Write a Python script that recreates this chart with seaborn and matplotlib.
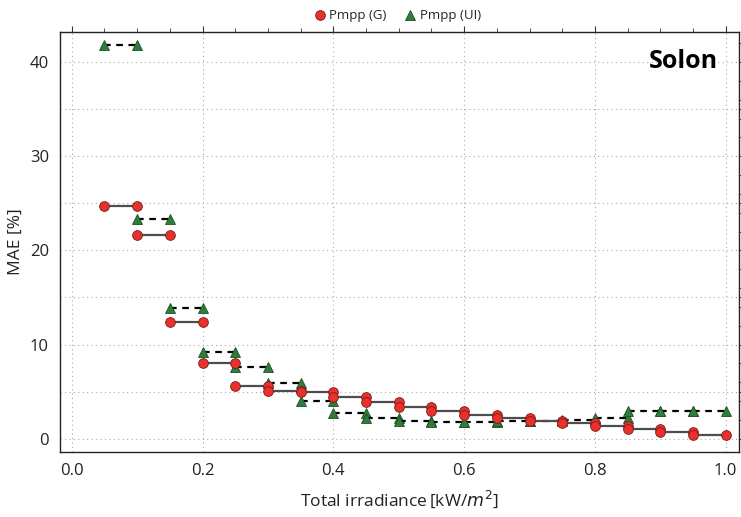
import numpy as np
import pandas as pd
import seaborn as sns
import matplotlib.pyplot as plt
from matplotlib.lines import Line2D
from matplotlib.ticker import MultipleLocator, FuncFormatter

# bin starts (irradiance, kW/m2), each bin is 0.05 wide
bin_start = [0.05, 0.10, 0.15, 0.20, 0.25, 0.30, 0.35, 0.40, 0.45, 0.50,
             0.55, 0.60, 0.65, 0.70, 0.75, 0.80, 0.85, 0.90, 0.95]
bin_width = 0.05
mae_g = [24.7, 21.6, 12.4, 8.0, 5.6, 5.1, 5.0, 4.4, 3.9, 3.4,
         2.9, 2.5, 2.2, 1.9, 1.65, 1.4, 1.05, 0.7, 0.35]
mae_ui = [41.8, 23.3, 13.9, 9.2, 7.6, 5.9, 4.0, 2.7, 2.15, 1.9,
          1.8, 1.8, 1.85, 1.9, 2.0, 2.2, 2.9, 2.9, 2.9]

#long table: two points per bin (start and end)
rows = []
for i, s in enumerate(bin_start):
    for x in (s, s + bin_width):
        rows.append({'bin': i, 'x': x, 'G': mae_g[i], 'UI': mae_ui[i]})
df = pd.DataFrame(rows)

sns.set_style('white')
plt.rcParams['font.family'] = ['Open Sans', 'DejaVu Sans']

red = '#e8302c'
green = '#2f7d3c'

fig = plt.figure(figsize=(7.41, 5.17), dpi=100)
ax = fig.add_axes([0.081, 0.126, 0.916, 0.812])

sns.lineplot(data=df, x='x', y='UI', units='bin', estimator=None, ax=ax,
             color='black', linestyle=(0, (3, 2.5)), linewidth=1.6,
             marker='^', markersize=7.5, markerfacecolor=green,
             markeredgecolor='#1f4f27', markeredgewidth=0.6, zorder=3)
sns.lineplot(data=df, x='x', y='G', units='bin', estimator=None, ax=ax,
             color='#4d4d4d', linestyle='-', linewidth=1.6,
             marker='o', markersize=7, markerfacecolor=red,
             markeredgecolor='#7a1a18', markeredgewidth=0.6, zorder=4)

ax.set_xlim(-0.018, 1.02)
ax.set_ylim(-1.4, 43.2)

ax.xaxis.set_major_locator(MultipleLocator(0.2))
ax.xaxis.set_minor_locator(MultipleLocator(0.05))
ax.yaxis.set_major_locator(MultipleLocator(5))
ax.yaxis.set_minor_locator(MultipleLocator(2))
ax.yaxis.set_major_formatter(FuncFormatter(lambda v, p: f'{v:.0f}' if v % 10 == 0 else ''))
ax.xaxis.set_major_formatter(FuncFormatter(lambda v, p: f'{v:.1f}'))

ax.tick_params(which='both', direction='out', top=True, right=True,
               labeltop=False, labelright=False, color='#333333')
ax.tick_params(which='major', length=4, width=0.8, labelsize=12, pad=4,
               labelcolor='#222222')
ax.tick_params(which='minor', length=3, width=0.6)

ax.grid(True, which='major', linestyle=(0, (1, 3)), color='#aaaaaa', linewidth=0.8)
for sp in ax.spines.values():
    sp.set_color('#222222')
    sp.set_linewidth(1.0)

ax.set_xlabel(r'Total irradiance$\,$[kW/$m^2$]', fontsize=12.5, labelpad=7,
              color='#222222')
ax.set_ylabel('MAE [%]', fontsize=12.5, labelpad=4, color='#222222')

ax.text(0.97, 0.93, 'Solon', transform=ax.transAxes, ha='right', va='center',
        fontsize=18, fontweight='bold', color='black',
        family=['Open Sans', 'DejaVu Sans'])

handles = [Line2D([], [], linestyle='none', marker='o', markersize=7,
                  markerfacecolor=red, markeredgecolor='#7a1a18', markeredgewidth=0.6),
           Line2D([], [], linestyle='none', marker='^', markersize=7,
                  markerfacecolor=green, markeredgecolor='#1f4f27', markeredgewidth=0.6)]
fig.legend(handles, ['Pmpp (G)', 'Pmpp (UI)'], loc='upper center', ncol=2,
           bbox_to_anchor=(0.535, 1.005), frameon=False, fontsize=9.5,
           handletextpad=0.1, columnspacing=1.2, handlelength=1.2)

fig.savefig('out.png', dpi=100)
